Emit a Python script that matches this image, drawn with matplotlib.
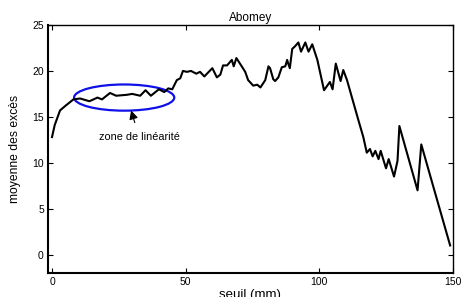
import matplotlib
matplotlib.use("Agg")
import matplotlib.pyplot as plt
from matplotlib.patches import Ellipse

# seuil (mm) et moyenne des excès
seuil = [0, 1, 3, 5, 8, 10.5, 14, 17, 18.7, 21.7, 24, 28, 30, 33, 35, 37, 40, 42,
         43.5, 45, 46.7, 48, 49, 50.5, 52, 54, 55.4, 57, 60, 61.7, 63, 64, 65.5,
         67.3, 68, 69, 71, 72.3, 73.4, 75.3, 76.8, 78, 79.8, 81, 81.6, 82.8, 83.5,
         84.7, 86, 87.3, 88, 88.4, 89, 89.9, 91, 92.2, 93.2, 94.8, 96, 97.4, 99.3,
         101.8, 104, 105, 106.2, 108, 109, 110.4, 114.7, 116.5, 117.8, 119, 120,
         121, 122.2, 123, 125, 126, 128, 129.3, 130, 136.8, 138.2, 142.8, 149]
moyenne = [12.8, 14.1, 15.7, 16.2, 16.9, 17.0, 16.7, 17.1, 16.9, 17.6, 17.3, 17.4,
           17.5, 17.3, 17.9, 17.3, 18.0, 17.7, 18.1, 18.0, 19.0, 19.2, 20.0, 19.9,
           20.0, 19.7, 19.9, 19.4, 20.3, 19.3, 19.6, 20.6, 20.6, 21.2, 20.5, 21.4,
           20.5, 19.9, 19.0, 18.4, 18.5, 18.2, 19.0, 20.5, 20.3, 19.1, 18.9, 19.3,
           20.4, 20.5, 21.2, 20.8, 20.3, 22.4, 22.7, 23.1, 22.1, 23.1, 22.1, 22.9,
           21.2, 17.9, 18.8, 18.0, 20.8, 18.9, 20.1, 19.0, 14.6, 12.8, 11.1, 11.5,
           10.7, 11.3, 10.4, 11.3, 9.4, 10.4, 8.5, 10.2, 14.0, 7.0, 12.0, 7.3, 1.0]

xticks = [0, 50, 100, 150]
yticks = [0, 5, 10, 15, 20, 25]

plt.rcParams['font.family'] = ['Liberation Sans', 'DejaVu Sans']

fig = plt.figure(figsize=(4.63, 2.97), dpi=100)
ax = fig.add_axes([0.1037, 0.0808, 0.8743, 0.835])

ax.plot(seuil, moyenne, color='black', linewidth=1.5)

# zone de linéarité
ell = Ellipse((27, 17.1), 37.5, 2.85, fill=False, edgecolor='#1010e8', linewidth=1.6)
ax.add_patch(ell)
ax.annotate('zone de linéarité', xy=(29.6, 15.7), xytext=(32.6, 12.8),
            ha='center', va='center', fontsize=7.8,
            arrowprops=dict(arrowstyle='-|>', color='black', lw=0.8,
                            mutation_scale=13, shrinkA=5, shrinkB=0))

ax.set_xlim(-1.5, 150)
ax.set_ylim(-2, 25)
ax.set_xticks(xticks)
ax.set_yticks(yticks)
ax.tick_params(direction='in', length=3.5, width=0.8, labelsize=7.5,
               top=True, right=True, pad=3)
for s in ['left', 'bottom']:
    ax.spines[s].set_linewidth(1.5)
for s in ['top', 'right']:
    ax.spines[s].set_linewidth(1.0)

ax.set_title('Abomey', fontsize=8.5, pad=3)
ax.set_xlabel('seuil (mm)', fontsize=9.5, labelpad=1)
ax.set_ylabel('moyenne des excès', fontsize=8.7, labelpad=8)

fig.savefig('out.png', dpi=100)
